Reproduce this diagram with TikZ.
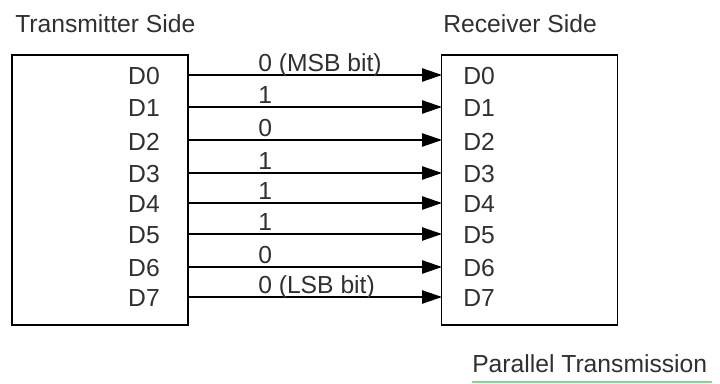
\documentclass[tikz,border=0pt]{standalone}
\usepackage{fontspec}
\setmainfont{Liberation Sans}
\usepackage{xcolor}
\usetikzlibrary{arrows.meta, positioning}

\definecolor{txtgray}{HTML}{303030}
\definecolor{linegreen}{HTML}{8AD49A}

\tikzset{
    unitbox/.style={draw, line width=1.2pt, minimum width=132pt, minimum height=202.5pt, inner sep=0pt},
    caption/.style={inner sep=0pt, text=txtgray},
    wire/.style={line width=1.1pt, -{Triangle[length=15pt, width=10pt]}},
    bitlabel/.style={inner sep=0pt, anchor=base west, text=txtgray}
}

\begin{document}
\begin{tikzpicture}[x=0.75pt, y=-0.75pt, font=\fontsize{18.5}{20}\selectfont]
        \useasboundingbox (0,0) rectangle (720,384);
        \node[unitbox] (TX) at (100,190) {};
        \node[unitbox] (RX) at (529.5,190) {};
        \node[caption, anchor=west] (TXname) at (15,24) {Transmitter Side};
        \node[caption, anchor=west] (RXname) at (443,24) {Receiver Side};
%
        \foreach \i/\bit/\y in {0/0 (MSB bit)/75, 1/1/107, 2/0/140, 3/1/173,
                                4/1/203, 5/1/234, 6/0/267, 7/0 (LSB bit)/297} {
            \node[caption, anchor=east] (tx\i) at (160,\y+1.5) {D\i};
            \node[caption, anchor=west] (rx\i) at (463,\y+1.5) {D\i};
            \coordinate (out\i) at (188,\y);
            \coordinate (in\i) at (442,\y);
            \draw[wire] (out\i) -- (in\i);
            \node[bitlabel] (bit\i) at (258,\y-3.5) {\bit};
        }
%
        \node[caption, anchor=west] (title) at (472,364) {Parallel Transmission};
        \coordinate (ulA) at (472,382);
        \coordinate (ulB) at (712,382);
        \draw[linegreen, line width=1.5pt] (ulA) -- (ulB);
\end{tikzpicture}
\end{document}
